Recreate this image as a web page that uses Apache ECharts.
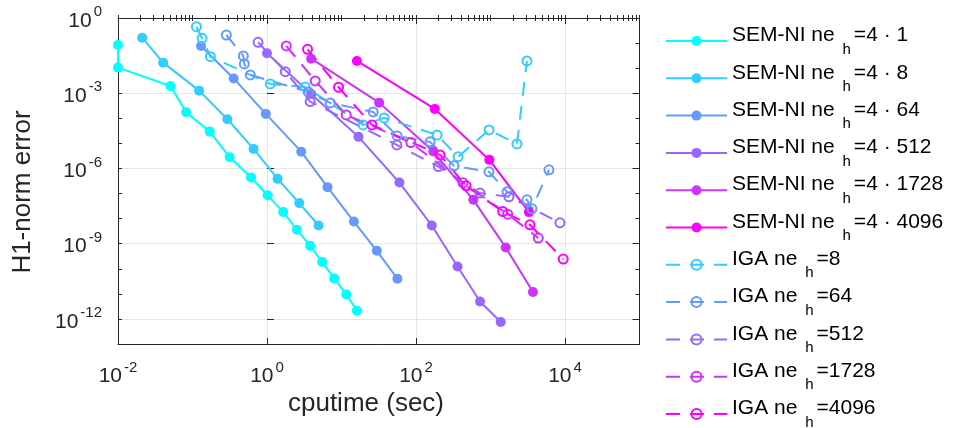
<!DOCTYPE html>
<html><head><meta charset="utf-8">
<script src="https://cdn.jsdelivr.net/npm/echarts@6/dist/echarts.min.js"></script>
<style>html,body{margin:0;padding:0;background:#fff}#c{width:956px;height:428px}</style>
</head><body><div id="c"></div>
<script>
// ---------------- data ----------------
const semNames = ['SEM-NI ne_h=4 · 1','SEM-NI ne_h=4 · 8','SEM-NI ne_h=4 · 64','SEM-NI ne_h=4 · 512','SEM-NI ne_h=4 · 1728','SEM-NI ne_h=4 · 4096'];
const igaNames = ['IGA ne_h=8','IGA ne_h=64','IGA ne_h=512','IGA ne_h=1728','IGA ne_h=4096'];

const semTime1 = [0.01, 0.01, 0.0506, 0.082, 0.170, 0.315, 0.61, 1.02, 1.65, 2.52, 3.80, 5.51, 7.98, 11.6, 16.1];
const semErr1  = [0.084, 0.0105, 1.95e-3, 1.75e-4, 2.95e-5, 2.82e-6, 4.34e-7, 8.5e-8, 1.82e-8, 3.58e-9, 8.24e-10, 1.85e-10, 4.11e-11, 9.46e-12, 2.12e-12];
const semTime8 = [0.0211, 0.0404, 0.1226, 0.294, 0.661, 1.387, 2.71, 4.92];
const semErr8  = [0.164, 0.01656, 1.27e-3, 9.2e-5, 6.04e-6, 3.85e-7, 4.15e-8, 5.31e-9];
const semTime64 = [0.130, 0.357, 0.963, 2.88, 6.49, 14.67, 29.8, 56.3];
const semErr64  = [0.0766, 3.89e-3, 1.5e-4, 4.67e-6, 1.8e-7, 7.66e-9, 5.21e-10, 4.0e-11];
const semTime512 = [1.0, 3.92, 16.9, 59.9, 163, 361, 723, 1371];
const semErr512  = [0.0392, 9.38e-4, 1.82e-5, 2.74e-7, 5.31e-9, 1.24e-10, 4.98e-12, 7.52e-13];
const semTime1728 = [3.92, 32, 171, 588, 1600, 3715];
const semErr1728  = [0.0239, 4.22e-4, 4.71e-6, 5.61e-8, 7.06e-10, 1.18e-11];
const semTime4096 = [16.1, 178.6, 964, 3281];
const semErr4096  = [0.01936, 2.37e-4, 2.2e-6, 1.82e-8];

const igaTime8 = [0.1128, 0.1345, 0.1738, 1.107, 3.26, 19.5, 37.4, 192, 367, 955, 2266, 3085];
const igaErr8  = [0.45, 0.155, 0.0287, 2.35e-3, 1.78e-3, 5.46e-5, 1.04e-4, 2.18e-5, 2.9e-6, 3.45e-5, 9.55e-6, 0.0194];
const igaTime64 = [0.2847, 0.481, 0.496, 0.597, 3.58, 7.06, 26.6, 55.8, 154.5, 324, 955, 1664, 3085, 3600, 6085];
const igaErr64  = [0.21, 0.0306, 0.0147, 5.36e-3, 1.13e-3, 4.11e-4, 1.8e-4, 1.99e-5, 1.15e-5, 1.27e-6, 7.32e-7, 1.17e-7, 5.61e-8, 2.46e-8, 8.8e-7];
const igaTime512 = [0.758, 1.76, 3.80, 55.3, 199.5, 723, 1770, 8550];
const igaErr512  = [0.1076, 7.26e-3, 4.63e-4, 8.71e-6, 1.19e-6, 1.04e-7, 7.4e-8, 6.8e-9];
const igaTime1728 = [1.814, 4.44, 11.56, 85.2, 428, 1701, 4375];
const igaErr1728  = [0.0766, 3.09e-3, 1.37e-4, 1.08e-5, 2.67e-7, 1.51e-8, 1.67e-9];
const igaTime4096 = [3.50, 9.12, 25.6, 210, 470, 1458, 3383, 9462];
const igaErr4096  = [0.0566, 1.73e-3, 5.46e-5, 3.48e-6, 2.03e-7, 1.92e-8, 5.66e-9, 2.43e-10];

// tick label exponents
const xLabelExps = [-2, 0, 2, 4];
const yLabelExps = [0, -3, -6, -9, -12];

// ---------------- styles ----------------
const semColors = ['#00FFFF', '#33CCFF', '#6699FF', '#9966FF', '#CC33FF', '#FF00FF'];
const igaColors = ['#33CCFF', '#6699FF', '#9966FF', '#CC33FF', '#FF00FF'];
const FONT = '"Liberation Sans", Arial, Helvetica, sans-serif';
const AX = '#262626';

const semSets = [[semTime1, semErr1], [semTime8, semErr8], [semTime64, semErr64], [semTime512, semErr512], [semTime1728, semErr1728], [semTime4096, semErr4096]];
const igaSets = [[igaTime8, igaErr8], [igaTime64, igaErr64], [igaTime512, igaErr512], [igaTime1728, igaErr1728], [igaTime4096, igaErr4096]];
const pairs = (t, e) => t.map((v, i) => [v, e[i]]);

const series = [];
semSets.forEach((s, i) => series.push({
  name: semNames[i], type: 'line', xAxisIndex: 0, yAxisIndex: 0, data: pairs(s[0], s[1]),
  symbol: 'circle', symbolSize: 10, showAllSymbol: true, clip: false,
  itemStyle: { color: semColors[i] }, lineStyle: { color: semColors[i], width: 2 },
  emphasis: { disabled: true }
}));
igaSets.forEach((s, i) => series.push({
  name: igaNames[i], type: 'line', xAxisIndex: 0, yAxisIndex: 0, data: pairs(s[0], s[1]),
  symbol: 'circle', symbolSize: 9, showAllSymbol: true, clip: false,
  itemStyle: { color: 'rgba(0,0,0,0)', borderColor: igaColors[i], borderWidth: 2 },
  lineStyle: { color: igaColors[i], width: 2, type: [14, 10] },
  emphasis: { disabled: true }
}));

const supRich = {
  b: { fontFamily: FONT, fontSize: 21, lineHeight: 27, verticalAlign: 'bottom', color: AX },
  s: { fontFamily: FONT, fontSize: 15, lineHeight: 15, verticalAlign: 'top', color: AX, padding: [0, 0, 0, 2] }
};
const tickLS = { color: AX, width: 1 };
const logX = (pos) => ({
  type: 'log', logBase: 10, min: 1e-2, max: 1e5, position: pos,
  axisLine: { show: false }, axisLabel: { show: false },
  axisTick: { show: true, inside: true, length: 3, lineStyle: tickLS },
  minorTick: { show: true, splitNumber: 9, length: 3, lineStyle: tickLS },
  splitLine: { show: false }, minorSplitLine: { show: false }
});
const valX = (pos, labels, grid) => ({
  type: 'value', min: -2, max: 5, interval: 2, position: pos,
  axisLine: { show: true, onZero: false, lineStyle: { color: AX, width: 1 } },
  axisTick: { show: true, inside: true, length: 6, lineStyle: tickLS },
  axisLabel: labels ? { show: true, margin: 16, formatter: v => xLabelExps.includes(v) ? '{b|10}{s|' + v + '}' : '', rich: supRich } : { show: false },
  splitLine: { show: grid, lineStyle: { color: '#e6e6e6', width: 1 } }
});
const valY = (pos, labels) => ({
  type: 'value', min: -13, max: 0, interval: 1, position: pos,
  axisLine: { show: true, onZero: false, lineStyle: { color: AX, width: 1 } },
  axisTick: { show: true, inside: true, length: 4, lineStyle: tickLS },
  axisLabel: labels ? { show: true, margin: 16, formatter: v => yLabelExps.includes(v) ? '{b|10}{s|' + v + '}' : '', rich: supRich } : { show: false },
  splitLine: { show: false }
});
const gridY = (pos, grid) => ({
  type: 'value', inverse: true, min: 0, max: 13, interval: 3, position: pos,
  axisLine: { show: false }, axisLabel: { show: false },
  axisTick: { show: true, inside: true, length: 7, lineStyle: tickLS },
  splitLine: { show: grid, lineStyle: { color: '#e6e6e6', width: 1 } }
});

const chart = echarts.init(document.getElementById('c'), null, { renderer: 'canvas' });
chart.setOption({
  animation: false,
  backgroundColor: '#fff',
  textStyle: { fontFamily: FONT },
  grid: { left: 118, top: 18, width: 521.5, height: 326, outerBoundsMode: 'none', containLabel: false },
  xAxis: [logX('bottom'), logX('top'), valX('bottom', true, true), valX('top', false, false)],
  yAxis: [
    { type: 'log', logBase: 10, min: 1e-13, max: 1, show: false },
    valY('left', true), valY('right', false), gridY('left', true), gridY('right', false)
  ],
  legend: {
    orient: 'vertical', left: 665, top: 25, height: 500, padding: 0,
    itemWidth: 61, itemHeight: 12.5, itemGap: 5.3,
    selectedMode: false,
    data: semNames.concat(igaNames),
    formatter: name => { const p = name.split('_h'); return '{b|' + p[0] + ' }{s|h}{b|' + p[1] + '}'; },
    textStyle: {
      fontFamily: FONT, fontSize: 21, color: '#000',
      rich: {
        b: { fontFamily: FONT, fontSize: 21, lineHeight: 32, verticalAlign: 'top', color: '#000' },
        s: { fontFamily: FONT, fontSize: 15, lineHeight: 15, verticalAlign: 'bottom', color: '#000', padding: [0, 3, 0, 2] }
      }
    }
  },
  graphic: [
    { type: 'text', x: 22.5, y: 192, rotation: Math.PI / 2,
      style: { text: 'H1-norm error', font: '26px ' + FONT, fill: AX, textAlign: 'center', textVerticalAlign: 'middle' } },
    { type: 'text', x: 366, y: 404,
      style: { text: 'cputime (sec)', font: '26px ' + FONT, fill: AX, textAlign: 'center', textVerticalAlign: 'middle' } }
  ],
  series: series
});
</script></body></html>
